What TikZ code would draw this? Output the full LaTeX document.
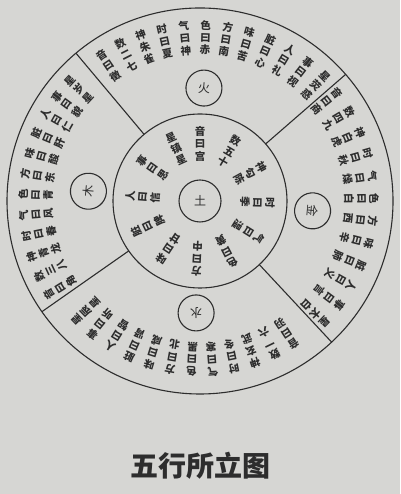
\documentclass[tikz,border=0pt]{standalone}
\usepackage{fontspec}
\newfontfamily\cjk{Noto Sans CJK SC}
\usetikzlibrary{positioning}
\definecolor{ink}{RGB}{45,45,45}
\definecolor{paper}{RGB}{214,214,211}

\begin{document}
\begin{tikzpicture}[x=1pt,y=1pt,
  ring/.style={circle,draw=ink,line width=1.1pt,inner sep=0pt,outer sep=0pt},
  word/.style={font=\cjk\bfseries\fontsize{10.5}{10.5}\selectfont,text=ink,inner sep=0pt},
  elem/.style={ring,minimum size=36pt,font=\cjk\fontsize{12}{12}\selectfont,text=ink},
  divider/.style={draw=ink,line width=1.1pt}]
\fill[paper] (0,0) rectangle (400,494);
\useasboundingbox (0,0) rectangle (400,494);
\coordinate (c) at (200,293);
\node[ring,minimum size=386pt] (rim) at (c) {};
\node[ring,minimum size=174pt] (core) at (c) {};
\node[elem,minimum size=42pt] (tu) at (c) {土};
% dividers between the four outer fields
\foreach \a in {130,41,313,215}
  \path[divider] (core.\a) -- (rim.\a);

\begin{scope}[shift={(c)}]
% element circles
\node[elem,rotate=-2] (huo) at (88:113) {火};
\node[elem,rotate=-95] (jin) at (-5:113) {金};
\node[elem,rotate=180] (shui) at (-92:112) {水};
\node[elem,rotate=85] (mu) at (175:112) {木};
% fire
\foreach \p/\q/\r [count=\i from 0] in {音/曰/徵,数/二/七,神/朱/雀,时/曰/夏,气/曰/神,色/曰/赤,方/曰/南,味/曰/苦,脏/曰/心,人/曰/礼,事/曰/视,星/荧/惑}{
  \pgfmathsetmacro\ang{84.5+7.2*5.5-7.2*\i}
  \foreach \ch [count=\k from 0] in {\p,\q,\r}
    \node[word,rotate=\ang-90] (huo\i-\k) at (\ang:{176-12.5*\k}) {\ch};}
% metal
\foreach \p/\q/\r [count=\i from 0] in {音/曰/商,数/四/九,神/白/虎,时/曰/秋,气/曰/燥,色/曰/白,方/曰/西,味/曰/辛,脏/曰/肺,人/曰/义,事/曰/言,星/太/白}{
  \pgfmathsetmacro\ang{-3+7.5*5.5-7.5*\i}
  \foreach \ch [count=\k from 0] in {\p,\q,\r}
    \node[word,rotate=\ang-90] (jin\i-\k) at (\ang:{174-12.5*\k}) {\ch};}
% water
\foreach \p/\q/\r [count=\i from 0] in {音/曰/羽,数/一/六,神/玄/武,时/曰/冬,气/曰/寒,色/曰/黑,方/曰/北,味/曰/咸,脏/曰/肾,人/曰/智,事/曰/听,星/辰/星}{
  \pgfmathsetmacro\ang{-96.5+7.2*5.5-7.2*\i}
  \foreach \ch [count=\k from 0] in {\p,\q,\r}
    \node[word,rotate=\ang-90] (shui\i-\k) at (\ang:{171-12.5*\k}) {\ch};}
% wood
\foreach \p/\q/\r [count=\i from 0] in {音/曰/角,数/三/八,神/青/龙,时/曰/春,气/曰/风,色/曰/青,方/曰/东,味/曰/酸,脏/曰/肝,人/曰/仁,事/曰/貌,星/岁/星}{
  \pgfmathsetmacro\ang{174.5+6.8*5.5-6.8*\i}
  \foreach \ch [count=\k from 0] in {\p,\q,\r}
    \node[word,rotate=\ang-90] (mu\i-\k) at (\ang:{177-12.5*\k}) {\ch};}
% earth, inner ring
\foreach \p/\q/\r [count=\i from 0] in {音/曰/宫,数/五/十,神/勾/陈,时/曰/季,气/曰/湿,色/曰/黄,方/曰/中,味/曰/甘,脏/曰/脾,人/曰/信,事/曰/思,星/镇/星}{
  \pgfmathsetmacro\ang{90-30.5*\i}
  \foreach \ch [count=\k from 0] in {\p,\q,\r}
    \node[word,rotate=\ang-90] (tu\i-\k) at (\ang:{70-12.5*\k}) {\ch};}
\end{scope}

\node[font=\cjk\bfseries\fontsize{28}{28}\selectfont,text=ink,inner sep=0pt] (caption) [below=58pt of rim] {五行所立图};
\end{tikzpicture}
\end{document}
